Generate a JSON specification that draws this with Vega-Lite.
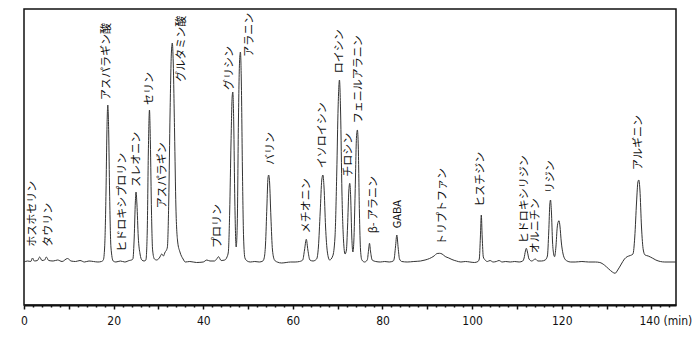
{
  "$schema": "https://vega.github.io/schema/vega-lite/v6.json",
  "width": 652,
  "height": 296,
  "autosize": "none",
  "padding": {"left": 24, "top": 9, "right": 19, "bottom": 32},
  "background": "white",
  "config": {"view": {"stroke": "#111", "strokeWidth": 1.5}},
  "datasets": {
    "trace": [
      {"t": 0, "v": 0}, {"t": 0.8, "v": 1}, {"t": 1.5, "v": 0.5}, {"t": 1.9, "v": 4}, {"t": 2.3, "v": 1}, {"t": 3.0, "v": 1.5}, {"t": 3.5, "v": 5}, {"t": 4.0, "v": 1.5}, {"t": 4.6, "v": 2}, {"t": 5.0, "v": 5}, {"t": 5.5, "v": 1.5}, {"t": 6.5, "v": 1}, {"t": 7.5, "v": 2}, {"t": 8.5, "v": 0.5}, {"t": 9.7, "v": 3.5}, {"t": 10.5, "v": 1}, {"t": 11.5, "v": 0.5}, {"t": 12.5, "v": 1.5}, {"t": 13.5, "v": 0}, {"t": 14.5, "v": 1}, {"t": 15.5, "v": 0.5}, {"t": 16.5, "v": 0}, {"t": 17.3, "v": 0.5},
      {"t": 17.7, "v": 2}, {"t": 18.0, "v": 15}, {"t": 18.3, "v": 70}, {"t": 18.5, "v": 130}, {"t": 18.7, "v": 157}, {"t": 18.9, "v": 130}, {"t": 19.1, "v": 70}, {"t": 19.4, "v": 15}, {"t": 19.9, "v": 1},
      {"t": 20.5, "v": 0}, {"t": 21.5, "v": 1}, {"t": 22.5, "v": 0}, {"t": 23.5, "v": 1.5}, {"t": 24.0, "v": 2},
      {"t": 24.3, "v": 3}, {"t": 24.6, "v": 25}, {"t": 24.85, "v": 60}, {"t": 25.0, "v": 70}, {"t": 25.2, "v": 58}, {"t": 25.5, "v": 25}, {"t": 25.9, "v": 8}, {"t": 26.3, "v": 2}, {"t": 26.8, "v": 1},
      {"t": 27.2, "v": 2}, {"t": 27.5, "v": 30}, {"t": 27.75, "v": 110}, {"t": 28.0, "v": 152}, {"t": 28.2, "v": 120}, {"t": 28.45, "v": 50}, {"t": 28.7, "v": 12}, {"t": 29.1, "v": 3}, {"t": 29.6, "v": 2},
      {"t": 30.2, "v": 4}, {"t": 30.75, "v": 8}, {"t": 31.1, "v": 6}, {"t": 31.5, "v": 10}, {"t": 31.8, "v": 12},
      {"t": 32.0, "v": 15}, {"t": 32.3, "v": 60}, {"t": 32.6, "v": 150}, {"t": 32.9, "v": 210}, {"t": 33.1, "v": 219}, {"t": 33.3, "v": 200}, {"t": 33.6, "v": 130}, {"t": 33.9, "v": 55}, {"t": 34.3, "v": 20}, {"t": 34.8, "v": 10}, {"t": 35.5, "v": 3}, {"t": 36.0, "v": 0},
      {"t": 37.0, "v": 0.5}, {"t": 38.5, "v": -0.5}, {"t": 40.0, "v": 0}, {"t": 40.8, "v": 2}, {"t": 41.5, "v": 1}, {"t": 42.5, "v": 1}, {"t": 43.0, "v": 3}, {"t": 43.4, "v": 5.3}, {"t": 44.0, "v": 1.5}, {"t": 44.8, "v": 2}, {"t": 45.3, "v": 5},
      {"t": 45.6, "v": 10}, {"t": 45.9, "v": 50}, {"t": 46.2, "v": 120}, {"t": 46.45, "v": 165}, {"t": 46.6, "v": 170}, {"t": 46.8, "v": 140}, {"t": 47.05, "v": 60}, {"t": 47.35, "v": 15},
      {"t": 47.6, "v": 40}, {"t": 47.85, "v": 140}, {"t": 48.1, "v": 200}, {"t": 48.3, "v": 210}, {"t": 48.5, "v": 180}, {"t": 48.75, "v": 90}, {"t": 49.0, "v": 25}, {"t": 49.3, "v": 4}, {"t": 49.8, "v": 1},
      {"t": 50.5, "v": 0}, {"t": 51.5, "v": 0.5}, {"t": 52.5, "v": 0}, {"t": 53.3, "v": 1},
      {"t": 53.6, "v": 4}, {"t": 53.9, "v": 18}, {"t": 54.2, "v": 55}, {"t": 54.45, "v": 84}, {"t": 54.6, "v": 87}, {"t": 54.8, "v": 80}, {"t": 55.1, "v": 45}, {"t": 55.45, "v": 12}, {"t": 55.9, "v": 2}, {"t": 56.5, "v": 0},
      {"t": 57.5, "v": -1}, {"t": 58.5, "v": -0.5}, {"t": 59.5, "v": 0}, {"t": 60.5, "v": 0}, {"t": 61.5, "v": 0.5},
      {"t": 62.2, "v": 2}, {"t": 62.6, "v": 12}, {"t": 63.0, "v": 22.7}, {"t": 63.35, "v": 12}, {"t": 63.8, "v": 2}, {"t": 64.5, "v": 1},
      {"t": 65.3, "v": 3}, {"t": 65.7, "v": 15}, {"t": 66.1, "v": 50}, {"t": 66.45, "v": 82}, {"t": 66.7, "v": 87}, {"t": 66.95, "v": 75}, {"t": 67.3, "v": 35}, {"t": 67.7, "v": 10}, {"t": 68.2, "v": 2},
      {"t": 68.9, "v": 6}, {"t": 69.4, "v": 25}, {"t": 69.8, "v": 90}, {"t": 70.1, "v": 155}, {"t": 70.4, "v": 182}, {"t": 70.65, "v": 150}, {"t": 70.95, "v": 70}, {"t": 71.3, "v": 22}, {"t": 71.65, "v": 8},
      {"t": 71.95, "v": 12}, {"t": 72.2, "v": 35}, {"t": 72.5, "v": 72}, {"t": 72.7, "v": 78.7}, {"t": 72.9, "v": 65}, {"t": 73.15, "v": 25}, {"t": 73.4, "v": 10},
      {"t": 73.6, "v": 20}, {"t": 73.9, "v": 70}, {"t": 74.2, "v": 125}, {"t": 74.4, "v": 132}, {"t": 74.6, "v": 115}, {"t": 74.85, "v": 50}, {"t": 75.1, "v": 12}, {"t": 75.4, "v": 2}, {"t": 76.0, "v": 0},
      {"t": 76.6, "v": 2}, {"t": 76.9, "v": 12}, {"t": 77.1, "v": 18.7}, {"t": 77.35, "v": 10}, {"t": 77.7, "v": 2}, {"t": 78.5, "v": 0.5}, {"t": 79.5, "v": 0}, {"t": 80.5, "v": 0.5}, {"t": 81.5, "v": 0}, {"t": 82.4, "v": 1},
      {"t": 82.6, "v": 3}, {"t": 82.9, "v": 15}, {"t": 83.2, "v": 27}, {"t": 83.5, "v": 14}, {"t": 83.8, "v": 3}, {"t": 84.3, "v": 0.5},
      {"t": 85.5, "v": 0}, {"t": 87.0, "v": 0.5}, {"t": 88.5, "v": 1}, {"t": 89.5, "v": 2}, {"t": 90.5, "v": 3.5}, {"t": 91.5, "v": 6}, {"t": 92.2, "v": 8.5}, {"t": 92.7, "v": 8.7}, {"t": 93.3, "v": 8}, {"t": 94.0, "v": 5.5}, {"t": 94.8, "v": 4}, {"t": 95.5, "v": 2.5}, {"t": 96.5, "v": 1}, {"t": 97.5, "v": 0}, {"t": 98.5, "v": 0.5}, {"t": 99.5, "v": 0}, {"t": 100.5, "v": -0.5}, {"t": 101.3, "v": 0.5},
      {"t": 101.6, "v": 3}, {"t": 101.85, "v": 25}, {"t": 102.05, "v": 47}, {"t": 102.25, "v": 25}, {"t": 102.5, "v": 5}, {"t": 102.9, "v": 2}, {"t": 103.4, "v": 0.5}, {"t": 104.0, "v": 1.5}, {"t": 104.7, "v": 0}, {"t": 105.4, "v": 0.5}, {"t": 106.0, "v": 1.5}, {"t": 106.7, "v": 0}, {"t": 107.5, "v": 0.5}, {"t": 108.5, "v": 0}, {"t": 109.5, "v": 0.5}, {"t": 110.5, "v": 0}, {"t": 111.3, "v": 1},
      {"t": 111.6, "v": 4}, {"t": 111.9, "v": 11}, {"t": 112.1, "v": 13.7}, {"t": 112.35, "v": 10}, {"t": 112.7, "v": 3}, {"t": 113.3, "v": 1}, {"t": 114.1, "v": 3}, {"t": 114.7, "v": 1}, {"t": 115.5, "v": 1}, {"t": 116.3, "v": 2},
      {"t": 116.8, "v": 6}, {"t": 117.1, "v": 30}, {"t": 117.35, "v": 58}, {"t": 117.5, "v": 62}, {"t": 117.7, "v": 50}, {"t": 117.95, "v": 20}, {"t": 118.2, "v": 8}, {"t": 118.4, "v": 5.3},
      {"t": 118.7, "v": 15}, {"t": 119.0, "v": 35}, {"t": 119.2, "v": 40}, {"t": 119.4, "v": 41.3}, {"t": 119.6, "v": 36}, {"t": 119.9, "v": 20}, {"t": 120.3, "v": 8}, {"t": 120.7, "v": 3}, {"t": 121.2, "v": 1}, {"t": 122.0, "v": 0},
      {"t": 123.0, "v": 0}, {"t": 124.5, "v": 0.5}, {"t": 126.0, "v": 0}, {"t": 127.5, "v": 0}, {"t": 128.5, "v": -0.5}, {"t": 129.5, "v": -3}, {"t": 130.5, "v": -7}, {"t": 131.3, "v": -10}, {"t": 131.9, "v": -11.3}, {"t": 132.5, "v": -8}, {"t": 133.3, "v": -2}, {"t": 134.0, "v": 3}, {"t": 134.6, "v": 5.3}, {"t": 135.3, "v": 6.5}, {"t": 135.9, "v": 8},
      {"t": 136.3, "v": 25}, {"t": 136.7, "v": 60}, {"t": 137.0, "v": 80}, {"t": 137.2, "v": 82}, {"t": 137.45, "v": 72}, {"t": 137.8, "v": 35}, {"t": 138.2, "v": 12}, {"t": 138.6, "v": 7}, {"t": 139.3, "v": 6}, {"t": 140.2, "v": 4}, {"t": 141.0, "v": 2}, {"t": 142.0, "v": 0.5}, {"t": 143.0, "v": 0}, {"t": 145.5, "v": 0}
    ],
    "labels": [
      {"name": "ホスホセリン", "t": 1.96, "v": 15.3},
      {"name": "タウリン", "t": 5.54, "v": 15.3},
      {"name": "アスパラギン酸", "t": 18.48, "v": 162},
      {"name": "ヒドロキシプロリン", "t": 22.05, "v": 10.3},
      {"name": "スレオニン", "t": 25.18, "v": 75.3},
      {"name": "セリン", "t": 28.01, "v": 157},
      {"name": "アスパラギン", "t": 30.98, "v": 53.7},
      {"name": "グルタミン酸", "t": 35.31, "v": 180.3},
      {"name": "プロリン", "t": 43.26, "v": 14},
      {"name": "グリシン", "t": 45.87, "v": 172},
      {"name": "アラニン", "t": 50.33, "v": 205.3},
      {"name": "バリン", "t": 55.18, "v": 97},
      {"name": "メチオニン", "t": 63.13, "v": 28.7},
      {"name": "イソロイシン", "t": 66.7, "v": 93.7},
      {"name": "ロイシン", "t": 70.42, "v": 188.7},
      {"name": "チロシン", "t": 72.5, "v": 85.3},
      {"name": "フェニルアラニン", "t": 74.73, "v": 138.7},
      {"name": "β- アラニン", "t": 78.01, "v": 28.7},
      {"name": "GABA", "t": 83.44, "v": 33.7},
      {"name": "トリプトファン", "t": 93.48, "v": 17},
      {"name": "ヒスチジン", "t": 101.9, "v": 55.3},
      {"name": "ヒドロキシリジン", "t": 111.9, "v": 18.7},
      {"name": "オルニチン", "t": 114.3, "v": 8.7},
      {"name": "リジン", "t": 117.7, "v": 68.7},
      {"name": "アルギニン", "t": 137.2, "v": 92}
    ]
  },
  "encoding": {
    "x": {
      "field": "t", "type": "quantitative",
      "scale": {"domain": [0, 145.5], "nice": false, "zero": false},
      "axis": {
        "title": null,
        "values": [0,2,4,6,8,10,12,14,16,18,20,22,24,26,28,30,32,34,36,38,40,42,44,46,48,50,52,54,56,58,60,62,64,66,68,70,72,74,76,78,80,82,84,86,88,90,92,94,96,98,100,102,104,106,108,110,112,114,116,118,120,122,124,126,128,130,132,134,136,138,140,142,144],
        "grid": false,
        "domainColor": "#111",
        "domainWidth": 2,
        "tickColor": "#111",
        "tickWidth": 1.5,
        "tickSize": {"condition": {"test": "datum.value % 10 === 0", "value": 4}, "value": 2},
        "labelExpr": "datum.value % 20 === 0 ? (datum.value === 140 ? '140 (min)' : datum.label) : ''",
        "labelOffset": {"condition": {"test": "datum.value === 140", "value": 14}, "value": 0},
        "labelFont": "DejaVu Sans Condensed",
        "labelFontSize": 12,
        "labelColor": "#111",
        "labelPadding": 6,
        "labelFlush": false,
        "labelOverlap": false
      }
    },
    "y": {
      "field": "v", "type": "quantitative",
      "scale": {"domain": [-43, 253], "nice": false, "zero": false},
      "axis": null
    }
  },
  "layer": [
    {
      "data": {"name": "trace"},
      "mark": {"type": "line", "color": "#333", "strokeWidth": 1, "interpolate": "monotone"}
    },
    {
      "data": {"name": "labels"},
      "mark": {"type": "text", "angle": 270, "align": "left", "baseline": "middle", "font": "Noto Sans CJK JP", "fontSize": 11, "color": "#111"},
      "encoding": {"text": {"field": "name"}}
    }
  ]
}
